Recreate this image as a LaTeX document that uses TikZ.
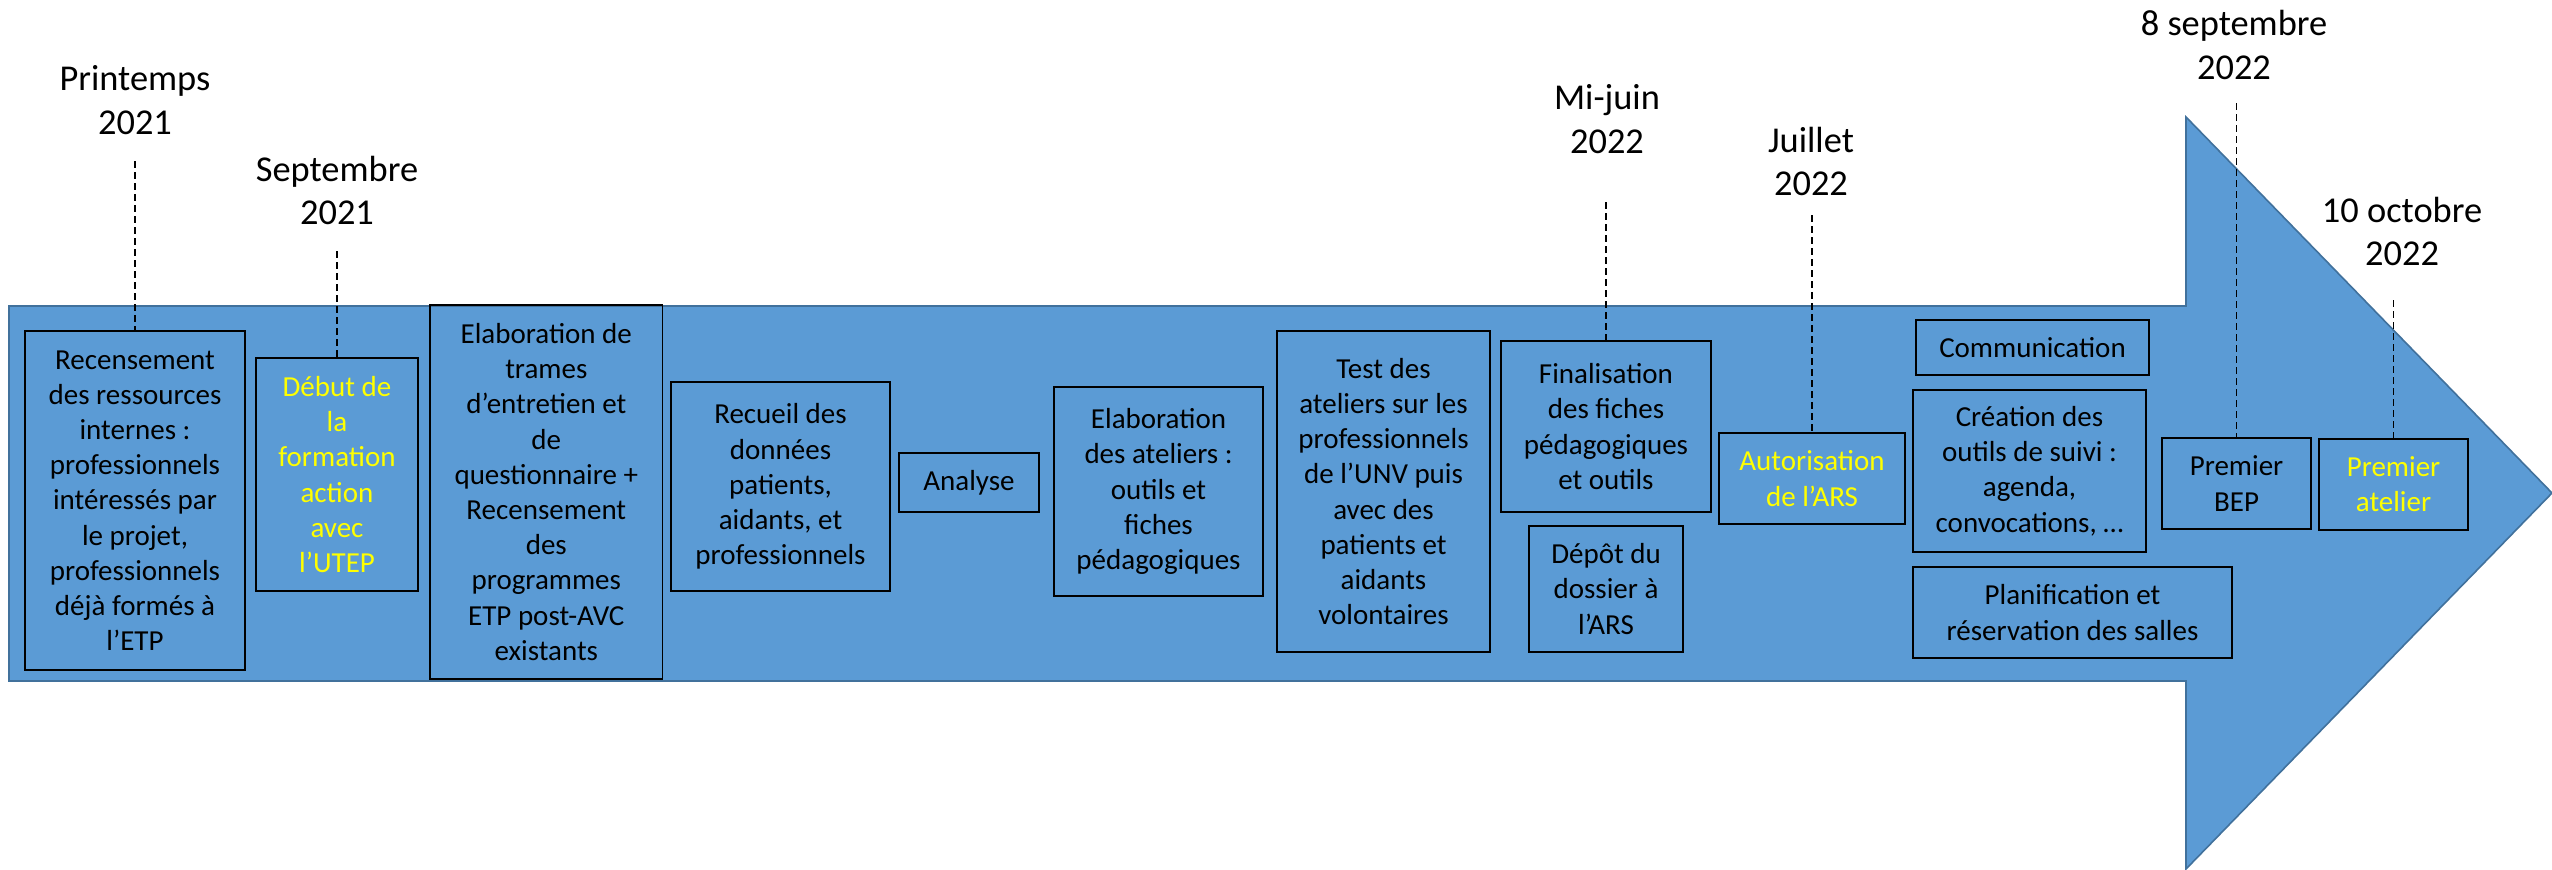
\documentclass[tikz,border=0pt]{standalone}
\usepackage{fontspec}
\setmainfont{Carlito}
\usepackage{xcolor}
\usepackage{tikz}
\usetikzlibrary{positioning}
\definecolor{arrowfill}{HTML}{5B9BD5}
\definecolor{arrowline}{HTML}{41719C}
\definecolor{hilite}{HTML}{FFFF00}
\tikzset{
  stepbox/.style={draw=black, line width=0.85pt, inner sep=0pt, align=center,
                  font=\fontsize{14.5}{17.6}\selectfont},
  datelbl/.style={inner sep=0pt, align=center, font=\fontsize{18.2}{21.7}\selectfont},
  tick/.style={dash pattern=on 3.4pt off 2.1pt, line width=0.7pt}
}
\begin{document}
\begin{tikzpicture}[x=0.5pt,y=-0.5pt]
\useasboundingbox (0,0) rectangle (2552,869);
\draw[fill=arrowfill, draw=arrowline, line width=0.8pt]
  (9,306) -- (2186,306) -- (2186,117) -- (2552,493) -- (2186,869) -- (2186,681) -- (9,681) -- cycle;

\node[stepbox, minimum width=110pt, minimum height=169.5pt] (b1) at (135,500.5)
  {Recensement\\des ressources\\internes :\\professionnels\\intéressés par\\le projet,\\professionnels\\déjà formés à\\l’ETP};
\node[stepbox, text=hilite, minimum width=81.25pt, minimum height=116.5pt] (b2) at (337,474.5)
  {Début de\\la\\formation\\action\\avec\\l’UTEP};
\node[stepbox, minimum width=116.3pt, minimum height=187pt] (b3) at (546.3,492)
  {Elaboration de\\trames\\d’entretien et\\de\\questionnaire +\\Recensement\\des\\programmes\\ETP post-AVC\\existants};
\node[stepbox, minimum width=109.5pt, minimum height=104.5pt] (b4) at (780.5,486.5)
  {Recueil des\\données\\patients,\\aidants, et\\professionnels};
\node[stepbox, minimum width=70pt, minimum height=29.5pt] (b5) at (969,482.5) {Analyse};
\node[stepbox, minimum width=104.5pt, minimum height=104.5pt] (b6) at (1158.5,491.5)
  {Elaboration\\des ateliers :\\outils et\\fiches\\pédagogiques};
\node[stepbox, minimum width=106.5pt, minimum height=160.5pt] (b7) at (1383.5,491.5)
  {Test des\\ateliers sur les\\professionnels\\de l’UNV puis\\avec des\\patients et\\aidants\\volontaires};
\node[stepbox, minimum width=105pt, minimum height=85.5pt] (b8) at (1606,426.5)
  {Finalisation\\des fiches\\pédagogiques\\et outils};
\node[stepbox, minimum width=77pt, minimum height=63pt] (b9) at (1606,589)
  {Dépôt du\\dossier à\\l’ARS};
\node[stepbox, text=hilite, minimum width=93pt, minimum height=45.5pt] (b10) at (1812,478.5)
  {Autorisation\\de l’ARS};
\node[stepbox, minimum width=116.5pt, minimum height=27.5pt] (b11) at (2032.5,347.5) {Communication};
\node[stepbox, minimum width=116.5pt, minimum height=81pt] (b12) at (2029.5,471)
  {Création des\\outils de suivi :\\agenda,\\convocations, …};
\node[stepbox, minimum width=159.5pt, minimum height=45.5pt] (b13) at (2072.5,612.5)
  {Planification et\\réservation des salles};
\node[stepbox, minimum width=74.5pt, minimum height=45.5pt] (b14) at (2236.5,483.5)
  {Premier\\BEP};
\node[stepbox, text=hilite, minimum width=74.5pt, minimum height=45.5pt] (b15) at (2393.5,484.5)
  {Premier\\atelier};

\foreach \nm/\px/\py/\mo/\yr in {l1/135/100/Printemps/2021, l2/337/190.5/Septembre/2021,
    l3/1607/119/Mi-juin/2022, l4/1811/161.5/Juillet/2022,
    l5/2234/45/8 septembre/2022, l6/2402/231.5/10 octobre/2022}
  \node[datelbl] (\nm) at (\px,\py) {\mo\\\yr};

\foreach \b/\t in {b1/161, b2/251, b8/202, b10/215, b14/103, b15/300}{
  \coordinate (\b-top) at (\b.north |- 0,\t);
  \draw[tick] (\b-top) -- (\b.north);
}
\end{tikzpicture}
\end{document}
